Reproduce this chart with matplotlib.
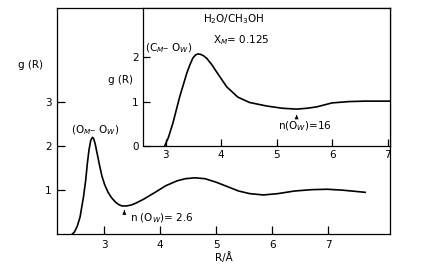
import matplotlib
matplotlib.use('Agg')
import matplotlib.pyplot as plt

plt.rcParams['font.family'] = ['DejaVu Sans']
plt.rcParams['mathtext.fontset'] = 'dejavusans'

# main panel: O_M - O_W radial distribution function
r_main = [2.43, 2.47, 2.52, 2.57, 2.63, 2.67, 2.70, 2.73, 2.76, 2.79, 2.81, 2.84,
          2.88, 2.92, 2.96, 3.01, 3.07, 3.13, 3.20, 3.26, 3.32, 3.40, 3.48, 3.56,
          3.70, 3.91, 4.10, 4.30, 4.45, 4.62, 4.80, 5.00, 5.20, 5.40, 5.60, 5.84,
          6.10, 6.40, 6.70, 6.98, 7.25, 7.50, 7.66]
g_main = [0.00, 0.05, 0.18, 0.39, 0.84, 1.22, 1.61, 1.92, 2.13, 2.20, 2.18, 2.05,
          1.80, 1.55, 1.32, 1.12, 0.95, 0.83, 0.73, 0.67, 0.64, 0.64, 0.66, 0.70,
          0.79, 0.95, 1.10, 1.21, 1.26, 1.28, 1.26, 1.18, 1.08, 0.98, 0.92, 0.89,
          0.92, 0.98, 1.01, 1.02, 1.00, 0.97, 0.95]

# inset: C_M - O_W radial distribution function
r_ins = [2.98, 3.05, 3.13, 3.25, 3.38, 3.44, 3.49, 3.54, 3.58, 3.63, 3.68, 3.74,
         3.83, 3.92, 4.10, 4.30, 4.51, 4.82, 5.10, 5.36, 5.55, 5.72, 6.00, 6.31,
         6.60, 7.07]
g_ins = [0.00, 0.20, 0.52, 1.10, 1.64, 1.84, 1.98, 2.05, 2.07, 2.06, 2.03, 1.97,
         1.83, 1.66, 1.33, 1.10, 0.98, 0.90, 0.85, 0.83, 0.85, 0.88, 0.97, 1.00,
         1.01, 1.01]

main_xticks = [3, 4, 5, 6, 7]
main_yticks = [1, 2, 3]
ins_xticks = [3, 4, 5, 6, 7]
ins_yticks = [0, 1, 2]

fs = 7.5

fig = plt.figure(figsize=(4.36, 2.70), dpi=100)
ax = fig.add_axes([0.131, 0.133, 0.763, 0.837])
ax.plot(r_main, g_main, color='black', lw=1.2)
ax.set_xlim(2.16, 8.1)
ax.set_ylim(0, 5.14)
ax.set_xticks(main_xticks)
ax.set_yticks(main_yticks)
ax.tick_params(direction='in', length=6, width=0.9, labelsize=fs, pad=4)
for s in ax.spines.values():
    s.set_linewidth(0.9)
ax.text(1.68, 3.84, 'g (R)', fontsize=fs, ha='center', va='center')
ax.set_xlabel('R/Å', fontsize=fs, labelpad=2)
ax.text(2.84, 2.36, '(O$_M$– O$_W$)', fontsize=fs, ha='center', va='center')
ax.annotate('', xy=(3.36, 0.60), xytext=(3.36, 0.46),
            arrowprops=dict(arrowstyle='-|>', lw=0.7, color='black', mutation_scale=5))
ax.text(3.46, 0.36, 'n (O$_W$)= 2.6', fontsize=fs, ha='left', va='center')

ins = fig.add_axes([0.328, 0.459, 0.566, 0.511])
ins.plot(r_ins, g_ins, color='black', lw=1.2)
ins.set_xlim(2.59, 7.04)
ins.set_ylim(0, 3.1)
ins.set_xticks(ins_xticks)
ins.set_yticks(ins_yticks)
ins.tick_params(direction='in', length=5, width=0.9, labelsize=fs, pad=3)
for s in ins.spines.values():
    s.set_linewidth(0.9)
ins.text(2.18, 1.48, 'g (R)', fontsize=fs, ha='center', va='center')
ins.text(3.05, 2.2, '(C$_M$– O$_W$)', fontsize=fs, ha='center', va='center')
ins.text(3.67, 2.85, 'H$_2$O/CH$_3$OH', fontsize=fs, ha='left', va='center')
ins.text(3.85, 2.38, 'X$_M$= 0.125', fontsize=fs, ha='left', va='center')
ins.annotate('', xy=(5.36, 0.76), xytext=(5.36, 0.60),
             arrowprops=dict(arrowstyle='-|>', lw=0.7, color='black', mutation_scale=5))
ins.text(5.5, 0.45, 'n(O$_W$)=16', fontsize=fs, ha='center', va='center')

fig.savefig('out.png', dpi=100)
